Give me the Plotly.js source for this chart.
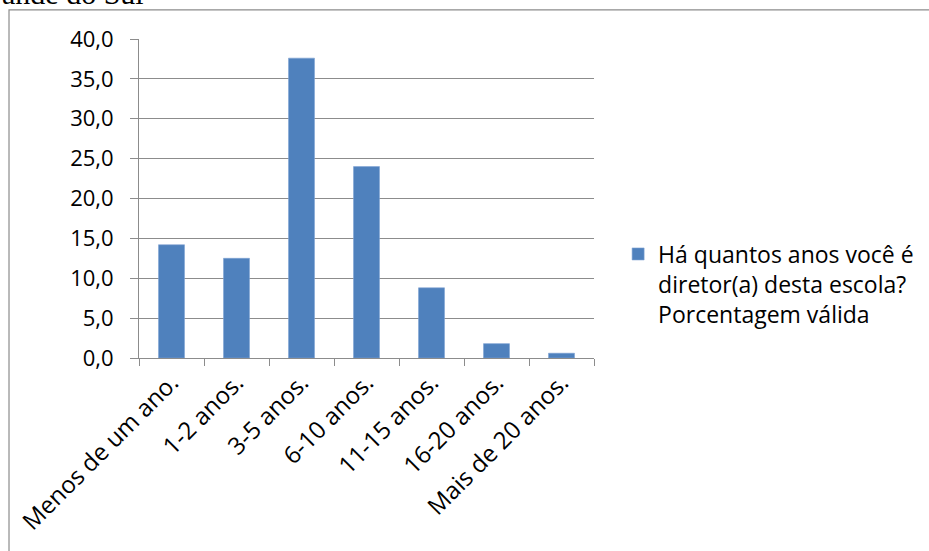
<!DOCTYPE html>
<html>
<head>
<meta charset="utf-8">
<script src="https://cdn.plot.ly/plotly-3.0.1.min.js"></script>
<style>html,body{margin:0;padding:0;background:#fff;}</style>
</head>
<body>
<div id="chart" style="width:929px;height:551px;"></div>
<script>
const categories = ["Menos de um ano.", "1-2 anos.", "3-5 anos.", "6-10 anos.", "11-15 anos.", "16-20 anos.", "Mais de 20 anos."];
const values = [14.2, 12.5, 37.6, 24.0, 8.8, 1.8, 0.6];
const seriesName = "Há quantos anos você é<br>diretor(a) desta escola?<br>Porcentagem válida";
const yTicks = [0, 5, 10, 15, 20, 25, 30, 35, 40];

const fontFam = "Open Sans, Lato, sans-serif";
const trace = {
  type: 'bar',
  x: categories,
  y: values,
  name: seriesName,
  showlegend: true,
  marker: {color: '#4F81BD', line: {color: '#7FA3D3', width: 0.6}},
  hoverinfo: 'x+y'
};

const layout = {
  width: 929, height: 551,
  margin: {l: 139, r: 335, t: 39, b: 193, pad: 0, autoexpand: false},
  paper_bgcolor: '#fff', plot_bgcolor: '#fff',
  separators: ', ',
  font: {family: fontFam, size: 22, color: '#000'},
  bargap: 0.6,
  xaxis: {
    type: 'category',
    tickangle: -45,
    showline: true, linecolor: '#8c8c8c', linewidth: 1,
    ticks: 'outside', ticklen: 7, tickcolor: '#8c8c8c', tickson: 'boundaries',
    showgrid: false,
    tickfont: {family: fontFam, size: 24, color: '#000'},
    automargin: false
  },
  yaxis: {
    range: [0, 40],
    tickvals: yTicks,
    tickformat: '.1f',
    showline: true, linecolor: '#8c8c8c', linewidth: 1,
    ticks: 'outside', ticklen: 8, tickcolor: '#8c8c8c',
    ticklabelstandoff: 12,
    showgrid: true, gridcolor: '#8c8c8c', gridwidth: 1,
    zeroline: false,
    tickfont: {family: fontFam, size: 22, color: '#000'},
    automargin: false
  },
  legend: {
    x: 1.053, xanchor: 'left', y: 0.232, yanchor: 'middle',
    valign: 'top',
    font: {family: fontFam, size: 23, color: '#000'},
    bgcolor: 'rgba(0,0,0,0)',
    tracegroupgap: 0
  },
  shapes: [{
    type: 'rect', xref: 'paper', yref: 'paper',
    x0: -0.2857, x1: 2.2, y0: -0.7, y1: 1.091,
    line: {color: '#8c8c8c', width: 1.2}, fillcolor: 'rgba(0,0,0,0)', layer: 'below'
  }],
  annotations: [{
    text: 'ande do Sul', xref: 'paper', yref: 'paper',
    x: -0.3055, y: 1.085, xanchor: 'left', yanchor: 'bottom', showarrow: false,
    font: {family: 'Liberation Serif, Times New Roman, serif', size: 30, color: '#000'}
  }]
};

Plotly.newPlot('chart', [trace], layout, {displayModeBar: false, staticPlot: true});
</script>
</body>
</html>
